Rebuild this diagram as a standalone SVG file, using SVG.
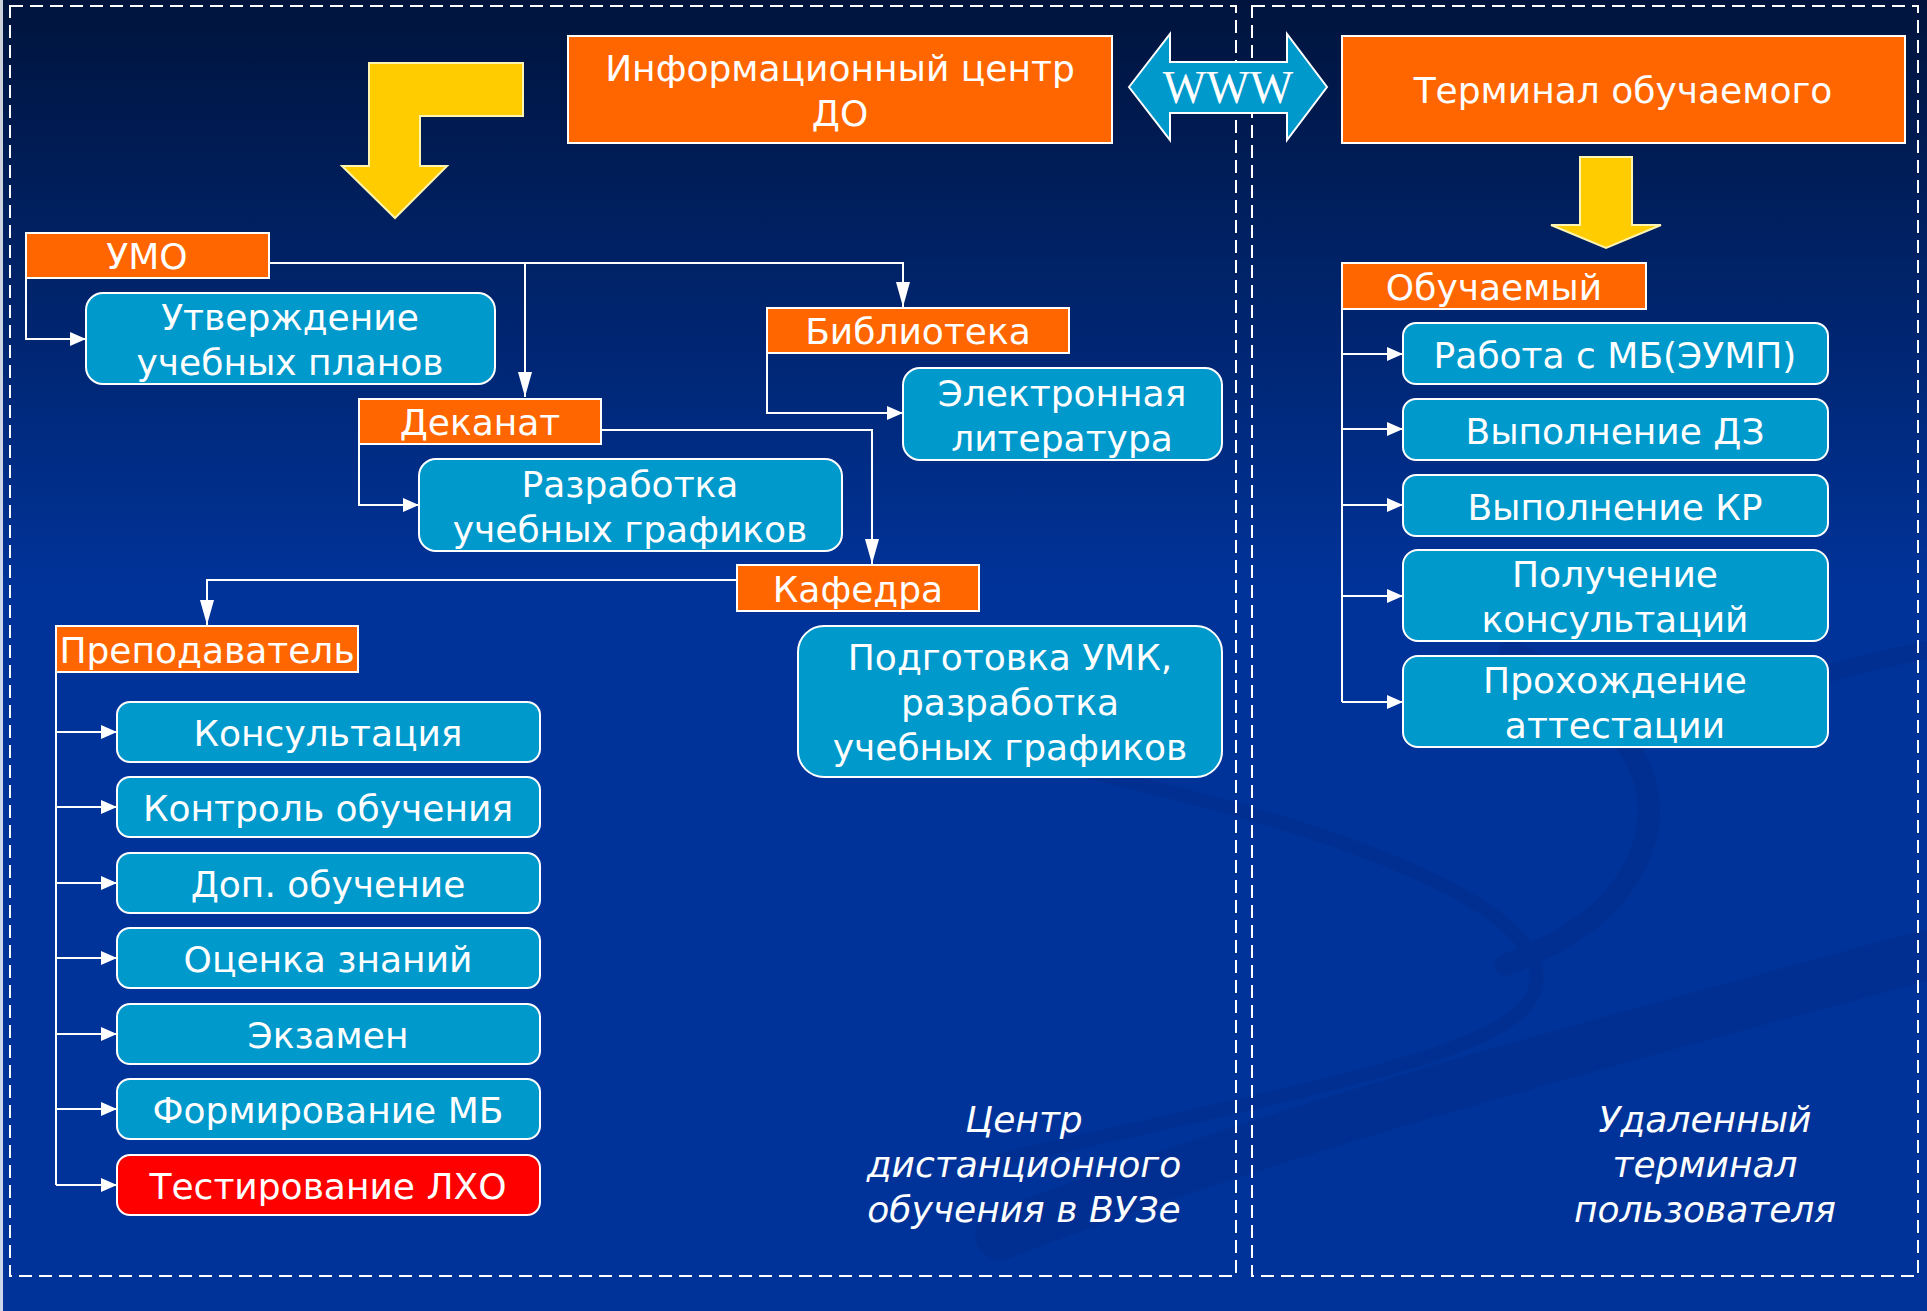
<svg xmlns="http://www.w3.org/2000/svg" width="1927" height="1311" viewBox="0 0 1927 1311">
<defs>
<linearGradient id="bg" x1="0" y1="0" x2="0" y2="1311" gradientUnits="userSpaceOnUse">
<stop offset="0" stop-color="#00143d"/>
<stop offset="0.45" stop-color="#003399"/>
<stop offset="1" stop-color="#003399"/>
</linearGradient>
<marker id="ahs" markerUnits="userSpaceOnUse" markerWidth="18" markerHeight="16" refX="16" refY="7" orient="auto">
<path d="M0,0 L16,7 L0,14 Z" fill="#ffffff"/>
</marker>
<marker id="ahl" markerUnits="userSpaceOnUse" markerWidth="26" markerHeight="16" refX="25" refY="7" orient="auto">
<path d="M0,0 L25,7 L0,14 Z" fill="#ffffff"/>
</marker>
<style>
.org{fill:#ff6600;stroke:#ffffff;stroke-width:2}
.blu{fill:#0099cc;stroke:#ffffff;stroke-width:2}
.red{fill:#ff0000;stroke:#ffffff;stroke-width:2}
.t{font-family:"DejaVu Sans","Verdana",sans-serif;font-size:36px;fill:#ffffff;text-anchor:middle}
.it{font-family:"DejaVu Sans","Verdana",sans-serif;font-size:36px;fill:#ffffff;text-anchor:middle;font-style:italic}
.dash{fill:none;stroke:#ffffff;stroke-width:2;stroke-dasharray:13 7}
.ln{fill:none;stroke:#ffffff;stroke-width:2}
.yel{fill:#ffcc00;stroke:#fff4b0;stroke-width:2}
.sw{fill:none;stroke:#00287d;stroke-linecap:round}
</style>
</defs>
<rect x="0" y="0" width="1927" height="1311" fill="url(#bg)"/>
<g id="background-swoosh" opacity="0.28">
<path class="sw" d="M1080,770 C1300,820 1560,900 1535,990 C1515,1050 1350,1080 1000,1160" stroke-width="14"/>
<path class="sw" d="M1000,1235 C1300,1120 1650,1030 1927,955" stroke-width="50"/>
<path class="sw" d="M1510,650 C1610,700 1665,770 1645,840 C1625,910 1560,945 1505,965" stroke-width="22"/>
<path class="sw" d="M1780,690 C1830,670 1880,660 1927,650" stroke-width="18"/>
</g>
<rect x="0" y="0" width="3" height="1311" fill="#ffffff" opacity="0.8"/>
<g id="frames">
<rect class="dash" x="10" y="6" width="1226" height="1270"/>
<rect class="dash" x="1252" y="6" width="666" height="1270"/>
</g>
<g id="big-arrows">
<polygon id="arrow-left" class="yel" points="523,63 523,116 420,116 420,166 447,166 395,218 342,166 369,166 369,63"/>
<polygon id="arrow-right" class="yel" points="1580,157 1632,157 1632,225 1661,225 1606,248 1551,225 1580,225"/>
</g>
<g id="www">
<polygon points="1129,87 1170,34 1170,62 1287,62 1287,34 1327,87 1287,140 1287,113 1170,113 1170,140" fill="#0099cc" stroke="#ffffff" stroke-width="2"/>
<text x="1228" y="103" font-family="Liberation Serif, serif" font-size="46" fill="#ffffff" text-anchor="middle">WWW</text>
</g>
<g id="connectors">
<path class="ln" d="M269,263 H903 V307" marker-end="url(#ahl)"/>
<path class="ln" d="M525,263 V397" marker-end="url(#ahl)"/>
<path class="ln" d="M26,278 V339 H86" marker-end="url(#ahs)"/>
<path class="ln" d="M767,353 V413 H903" marker-end="url(#ahs)"/>
<path class="ln" d="M601,430 H872 V564" marker-end="url(#ahl)"/>
<path class="ln" d="M359,444 V505 H419" marker-end="url(#ahs)"/>
<path class="ln" d="M737,580 H207 V625" marker-end="url(#ahl)"/>
<path class="ln" d="M56,672 V1185"/>
<path class="ln" d="M56,732 H117" marker-end="url(#ahs)"/>
<path class="ln" d="M56,807 H117" marker-end="url(#ahs)"/>
<path class="ln" d="M56,883 H117" marker-end="url(#ahs)"/>
<path class="ln" d="M56,958 H117" marker-end="url(#ahs)"/>
<path class="ln" d="M56,1034 H117" marker-end="url(#ahs)"/>
<path class="ln" d="M56,1109 H117" marker-end="url(#ahs)"/>
<path class="ln" d="M56,1185 H117" marker-end="url(#ahs)"/>
<path class="ln" d="M1342,309 V702"/>
<path class="ln" d="M1342,354 H1403" marker-end="url(#ahs)"/>
<path class="ln" d="M1342,429 H1403" marker-end="url(#ahs)"/>
<path class="ln" d="M1342,505 H1403" marker-end="url(#ahs)"/>
<path class="ln" d="M1342,596 H1403" marker-end="url(#ahs)"/>
<path class="ln" d="M1342,702 H1403" marker-end="url(#ahs)"/>
</g>
<g id="info-center"><rect class="org" x="568" y="36" width="544" height="107"/><text class="t" x="840" y="81">Информационный центр</text><text class="t" x="840" y="126">ДО</text></g>
<g id="terminal"><rect class="org" x="1342" y="36" width="563" height="107"/><text class="t" x="1623" y="103">Терминал обучаемого</text></g>
<g id="umo"><rect class="org" x="26" y="233" width="243" height="45"/><text class="t" x="147" y="269">УМО</text></g>
<g id="utverzhdenie"><rect class="blu" x="86" y="293" width="409" height="91" rx="17"/><text class="t" x="290" y="330">Утверждение</text><text class="t" x="290" y="375">учебных планов</text></g>
<g id="biblioteka"><rect class="org" x="767" y="308" width="302" height="45"/><text class="t" x="918" y="344">Библиотека</text></g>
<g id="elektronnaya"><rect class="blu" x="903" y="368" width="319" height="92" rx="17"/><text class="t" x="1062" y="406">Электронная</text><text class="t" x="1062" y="451">литература</text></g>
<g id="dekanat"><rect class="org" x="359" y="399" width="242" height="45"/><text class="t" x="480" y="435">Деканат</text></g>
<g id="razrabotka"><rect class="blu" x="419" y="459" width="423" height="92" rx="17"/><text class="t" x="630" y="497">Разработка</text><text class="t" x="630" y="542">учебных графиков</text></g>
<g id="kafedra"><rect class="org" x="737" y="565" width="242" height="46"/><text class="t" x="858" y="602">Кафедра</text></g>
<g id="prepodavatel"><rect class="org" x="56" y="626" width="302" height="46"/><text class="t" x="207" y="663">Преподаватель</text></g>
<g id="podgotovka"><rect class="blu" x="798" y="626" width="424" height="151" rx="26"/><text class="t" x="1010" y="670">Подготовка УМК,</text><text class="t" x="1010" y="715">разработка</text><text class="t" x="1010" y="760">учебных графиков</text></g>
<g id="konsultaciya"><rect class="blu" x="117" y="702" width="423" height="60" rx="13"/><text class="t" x="328" y="746">Консультация</text></g>
<g id="kontrol"><rect class="blu" x="117" y="777" width="423" height="60" rx="13"/><text class="t" x="328" y="821">Контроль обучения</text></g>
<g id="dop"><rect class="blu" x="117" y="853" width="423" height="60" rx="13"/><text class="t" x="328" y="897">Доп. обучение</text></g>
<g id="ocenka"><rect class="blu" x="117" y="928" width="423" height="60" rx="13"/><text class="t" x="328" y="972">Оценка знаний</text></g>
<g id="ekzamen"><rect class="blu" x="117" y="1004" width="423" height="60" rx="13"/><text class="t" x="328" y="1048">Экзамен</text></g>
<g id="formirovanie"><rect class="blu" x="117" y="1079" width="423" height="60" rx="13"/><text class="t" x="328" y="1123">Формирование МБ</text></g>
<g id="testirovanie"><rect class="red" x="117" y="1155" width="423" height="60" rx="13"/><text class="t" x="328" y="1199">Тестирование ЛХО</text></g>
<g id="obuchaemyi"><rect class="org" x="1342" y="263" width="304" height="46"/><text class="t" x="1494" y="300">Обучаемый</text></g>
<g id="rabota"><rect class="blu" x="1403" y="323" width="425" height="61" rx="13"/><text class="t" x="1615" y="368">Работа с МБ(ЭУМП)</text></g>
<g id="dz"><rect class="blu" x="1403" y="399" width="425" height="61" rx="13"/><text class="t" x="1615" y="444">Выполнение ДЗ</text></g>
<g id="kr"><rect class="blu" x="1403" y="475" width="425" height="61" rx="13"/><text class="t" x="1615" y="520">Выполнение КР</text></g>
<g id="poluchenie"><rect class="blu" x="1403" y="550" width="425" height="91" rx="15"/><text class="t" x="1615" y="587">Получение</text><text class="t" x="1615" y="632">консультаций</text></g>
<g id="prohozhdenie"><rect class="blu" x="1403" y="656" width="425" height="91" rx="15"/><text class="t" x="1615" y="693">Прохождение</text><text class="t" x="1615" y="738">аттестации</text></g>
<g id="labels">
<text class="it" x="1024" y="1132">Центр</text>
<text class="it" x="1024" y="1177">дистанционного</text>
<text class="it" x="1024" y="1222">обучения в ВУЗе</text>
<text class="it" x="1705" y="1132">Удаленный</text>
<text class="it" x="1705" y="1177">терминал</text>
<text class="it" x="1705" y="1222">пользователя</text>
</g>
</svg>
